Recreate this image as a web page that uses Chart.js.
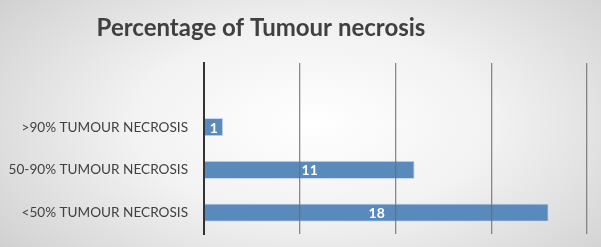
<!DOCTYPE html>
<html>
<head>
<meta charset="utf-8">
<script src="https://cdn.jsdelivr.net/npm/chart.js@4.4.1/dist/chart.umd.min.js"></script>
<style>
  html, body { margin: 0; padding: 0; }
  body {
    width: 601px; height: 247px; overflow: hidden;
    background: radial-gradient(ellipse 75% 95% at 52% 50%, #ffffff 0%, #f2f2f2 40%, #d6d6d6 80%, #c6c6c6 100%);
  }
  canvas { display: block; }
</style>
</head>
<body>
<canvas id="chart" width="601" height="247"></canvas>
<script>
// categories top to bottom (top row is empty in the original)
const categories = ["", ">90% TUMOUR NECROSIS", "50-90% TUMOUR NECROSIS", "<50% TUMOUR NECROSIS"];
const counts = [null, 1, 11, 18];
const xTicks = [0, 5, 10, 15, 20];
const titleText = "Percentage of Tumour necrosis";

// title sits a bit left of centre, so draw it by hand
const chartTitle = {
  id: "chartTitle",
  afterDraw(chart) {
    const ctx = chart.ctx;
    ctx.save();
    ctx.font = "bold 24px Lato, 'Open Sans', sans-serif";
    ctx.fillStyle = "#404040";
    ctx.textAlign = "center";
    ctx.textBaseline = "middle";
    ctx.fillText(titleText, 261, 28);
    ctx.restore();
  }
};

// value labels inside the bars
const barLabels = {
  id: "barLabels",
  afterDatasetsDraw(chart) {
    const ctx = chart.ctx;
    const meta = chart.getDatasetMeta(0);
    ctx.save();
    ctx.font = "bold 14px Lato, 'Open Sans', sans-serif";
    ctx.fillStyle = "#ffffff";
    ctx.textAlign = "center";
    ctx.textBaseline = "middle";
    meta.data.forEach((bar, i) => {
      if (counts[i] == null) return;
      const p = bar.getProps(["x", "y", "base"], true);
      ctx.fillText(String(counts[i]), (p.x + p.base) / 2, p.y + 1);
    });
    ctx.restore();
  }
};

const ctx = document.getElementById("chart").getContext("2d");
new Chart(ctx, {
  type: "bar",
  data: {
    labels: categories,
    datasets: [{
      data: counts,
      backgroundColor: "#5a89bb",
      borderColor: "#c6dbef",
      borderWidth: 1,
      categoryPercentage: 0.8,
      barPercentage: 0.53
    }]
  },
  options: {
    indexAxis: "y",
    responsive: false,
    animation: false,
    layout: { padding: { left: 0, right: 14, top: 63, bottom: 13 } },
    plugins: {
      legend: { display: false },
      tooltip: { enabled: false },
      title: { display: false }
    },
    scales: {
      x: {
        min: 0,
        max: 20,
        afterBuildTicks: (axis) => { axis.ticks = xTicks.map((v) => ({ value: v })); },
        afterFit: (axis) => { axis.height = 0; },
        ticks: { display: false },
        grid: { color: "rgba(110,110,110,0.8)", lineWidth: 1.3, drawTicks: false, z: 1 },
        border: { display: false }
      },
      y: {
        afterFit: (axis) => {
          axis.width = 204;
          axis.paddingTop = 0;
          axis.paddingBottom = 0;
        },
        ticks: {
          color: "#404040",
          font: { family: "Lato, 'Open Sans', sans-serif", size: 13.6 },
          padding: 16
        },
        grid: { display: false, drawTicks: false },
        border: { display: true, color: "#333333", width: 2, z: 2 }
      }
    }
  },
  plugins: [barLabels, chartTitle]
});
</script>
</body>
</html>
